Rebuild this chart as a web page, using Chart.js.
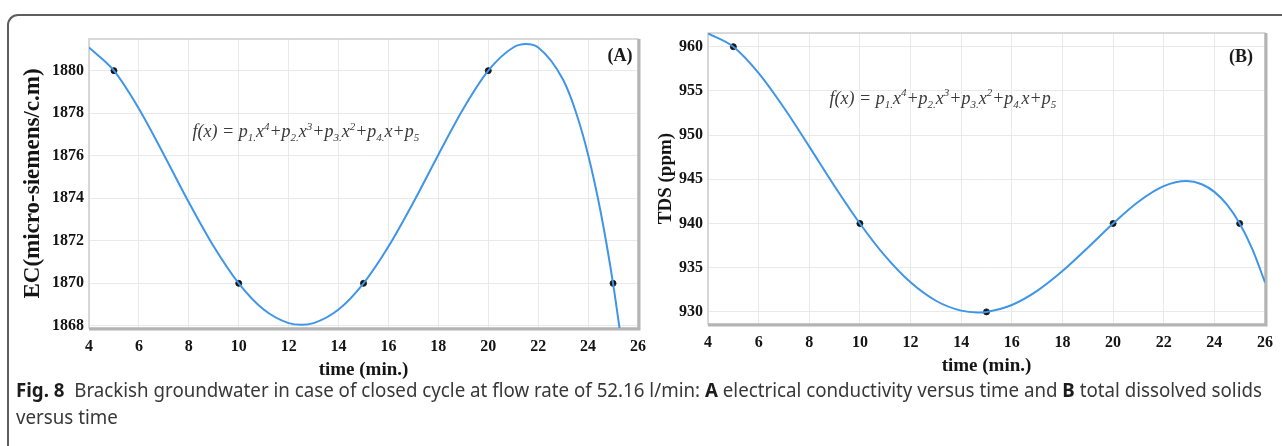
<!DOCTYPE html>
<html lang="en">

<head>
  <meta charset="UTF-8">
  <title>Fig. 8 - Brackish groundwater, closed cycle</title>

  <!-- Chart.js -->
  <script src="https://cdn.jsdelivr.net/npm/chart.js"></script>

  <style>
    body {
      margin: 0;
      width: 1282px;
      height: 446px;
      overflow: hidden;
      background: #fff;
      position: relative;
    }

    /* rounded figure frame, only top/left visible in the crop */
    .figure-frame {
      position: absolute;
      left: 7px;
      top: 14px;
      width: 1400px;
      height: 600px;
      border-top: 2px solid #5e5e5e;
      border-left: 2px solid #5e5e5e;
      border-top-left-radius: 11px;
    }

    .chart-box {
      position: absolute;
      top: 0;
    }

    #boxA { left: 0; }
    #boxB { left: 650px; }

    .caption {
      position: absolute;
      left: 16px;
      top: 377px;
      font-family: 'Liberation Sans Narrow', 'Noto Sans', 'DejaVu Sans', sans-serif;
      font-size: 19px;
      line-height: 27px;
      color: #383838;
      white-space: nowrap;
      transform-origin: 0 0;
    }

    .caption b { color: #1c1c1c; }
  </style>
</head>

<body>
  <div class="figure-frame"></div>

  <div class="chart-box" id="boxA"><canvas id="chartA" width="655" height="385"></canvas></div>
  <div class="chart-box" id="boxB"><canvas id="chartB" width="632" height="385"></canvas></div>

  <div class="caption" id="caption">
    <span id="capLine1"><b>Fig. 8</b>&nbsp; Brackish groundwater in case of closed cycle at flow rate of 52.16 l/min: <b>A</b> electrical conductivity versus time and <b>B</b> total dissolved solids</span><br>
    <span>versus time</span>
  </div>

  <script>
    // Measured samples (both panels)
    const timePoints = [5, 10, 15, 20, 25];
    const ecMeasured = [1880, 1870, 1870, 1880, 1870];
    const tdsMeasured = [960, 940, 930, 940, 940];

    // Fitted curve
    const timeFitA = [4, 5, 6, 7, 8, 9, 10, 11, 12, 12.5, 13, 14, 15, 16, 17, 18, 19, 20, 21, 21.5, 22, 23, 23.5, 24, 24.5, 25, 25.5];
    const ecFit = [1881.09, 1880, 1878.21, 1876.05, 1873.81, 1871.73, 1870, 1868.77, 1868.13, 1868.05, 1868.13, 1868.77, 1870, 1871.73, 1873.81, 1876.05, 1878.21, 1880, 1881.09, 1881.25, 1881.09, 1879.57, 1878.09, 1876.05, 1873.38, 1870, 1865.85];

    // Fitted curve
    const timeFitB = [4, 5, 6, 7, 8, 9, 10, 11, 12, 13, 14, 14.65, 15, 16, 17, 18, 19, 20, 21, 22, 22.9, 23.5, 24, 24.5, 25, 25.5, 26];
    const tdsFit = [961.5, 960, 957.02, 953.1, 948.7, 944.22, 940, 936.3, 933.34, 931.26, 930.14, 929.94, 930, 930.78, 932.38, 934.62, 937.26, 940, 942.46, 944.22, 944.8, 944.44, 943.58, 942.13, 940, 937.1, 933.34];

    // Tick labels
    const timeTicks = [4, 6, 8, 10, 12, 14, 16, 18, 20, 22, 24, 26];
    const ecTicks = [1868, 1870, 1872, 1874, 1876, 1878, 1880];
    const tdsTicks = [930, 935, 940, 945, 950, 955, 960];

    // Fit equation, pieces: 0 normal, 1 subscript, 2 superscript
    const formulaParts = [
      ['f(x) = p', 0], ['1.', 1], ['x', 0], ['4', 2],
      ['+p', 0], ['2.', 1], ['x', 0], ['3', 2],
      ['+p', 0], ['3.', 1], ['x', 0], ['2', 2],
      ['+p', 0], ['4.', 1], ['x+p', 0], ['5', 1]
    ];

    const lineBlue = '#3f95e8';
    const serif = "'Liberation Serif', 'DejaVu Serif', serif";

    function toXY(xs, ys) {
      return xs.map((x, i) => ({ x: x, y: ys[i] }));
    }

    // Draw the equation piece by piece with sub/superscripts
    function drawFormula(ctx, x, y, size) {
      ctx.save();
      ctx.fillStyle = '#3a3a3a';
      ctx.textBaseline = 'alphabetic';
      ctx.textAlign = 'left';
      let cx = x;
      formulaParts.forEach(([text, kind]) => {
        const fs = kind === 0 ? size : Math.round(size * 0.62);
        const dy = kind === 1 ? size * 0.22 : (kind === 2 ? -size * 0.42 : 0);
        ctx.font = 'italic ' + fs + 'px ' + serif;
        ctx.fillText(text, cx, y + dy);
        cx += ctx.measureText(text).width;
      });
      ctx.restore();
    }

    // Plot frame, equation and panel letter
    const panelPlugin = {
      id: 'panel',
      beforeDatasetsDraw(chart) {
        const { ctx, chartArea: a } = chart;
        ctx.save();
        ctx.strokeStyle = '#cdcdcd';
        ctx.lineWidth = 1.5;
        ctx.strokeRect(a.left, a.top, a.right - a.left, a.bottom - a.top);
        ctx.strokeStyle = '#b4b4b4';
        ctx.lineWidth = 3;
        ctx.beginPath();
        ctx.moveTo(a.left, a.bottom + 1);
        ctx.lineTo(a.right + 1, a.bottom + 1);
        ctx.lineTo(a.right + 1, a.top);
        ctx.stroke();
        ctx.restore();
      },
      afterDatasetsDraw(chart, args, opts) {
        const { ctx, chartArea: a, scales } = chart;
        const fx = scales.x.getPixelForValue(opts.formulaAt[0]);
        const fy = scales.y.getPixelForValue(opts.formulaAt[1]);
        drawFormula(ctx, fx, fy + opts.formulaSize * 0.32, opts.formulaSize);

        ctx.save();
        ctx.font = 'bold 18px ' + serif;
        ctx.fillStyle = '#1a1a1a';
        ctx.textAlign = 'center';
        ctx.textBaseline = 'middle';
        ctx.fillText(opts.letter, a.right + opts.letterOffset[0], a.top + opts.letterOffset[1]);
        ctx.restore();
      }
    };

    function makeChart(canvasId, cfg) {
      const tickFont = { family: serif, size: 16, weight: 'bold' };
      return new Chart(document.getElementById(canvasId), {
        type: 'line',
        data: {
          datasets: [{
            label: 'fit',
            data: toXY(cfg.fitX, cfg.fitY),
            borderColor: lineBlue,
            borderWidth: 2,
            pointRadius: 0,
            fill: false,
            cubicInterpolationMode: 'monotone'
          }, {
            label: 'measured',
            data: toXY(timePoints, cfg.measured),
            showLine: false,
            pointRadius: 3,
            pointBackgroundColor: '#111',
            pointBorderColor: '#222',
            pointBorderWidth: 1
          }]
        },
        options: {
          responsive: false,
          animation: false,
          layout: { padding: cfg.padding },
          plugins: {
            legend: { display: false },
            tooltip: { enabled: false },
            panel: cfg.panel
          },
          scales: {
            x: {
              type: 'linear',
              min: 4,
              max: 26,
              afterBuildTicks: s => { s.ticks = timeTicks.map(v => ({ value: v })); },
              afterFit: s => { s.height = 53; },
              ticks: { padding: 9, color: '#141414', font: tickFont, maxRotation: 0, autoSkip: false },
              grid: { color: '#e9e9e9', drawTicks: false },
              border: { display: false },
              title: {
                display: true,
                text: 'time (min.)',
                color: '#141414',
                font: { family: serif, size: 19, weight: 'bold' },
                padding: 0
              }
            },
            y: {
              min: cfg.yMin,
              max: cfg.yMax,
              afterBuildTicks: s => { s.ticks = cfg.yTicks.map(v => ({ value: v })); },
              afterFit: s => { s.width = cfg.yWidth; },
              ticks: { padding: 5, color: '#141414', font: tickFont, callback: v => String(v) },
              grid: { color: '#e9e9e9', drawTicks: false },
              border: { display: false },
              title: {
                display: true,
                text: cfg.yTitle,
                color: '#141414',
                font: { family: serif, size: cfg.yTitleSize, weight: 'bold' },
                padding: { top: cfg.yTitlePad, bottom: 0 }
              }
            }
          }
        },
        plugins: [panelPlugin]
      });
    }

    // Panel A - EC
    makeChart('chartA', {
      fitX: timeFitA, fitY: ecFit, measured: ecMeasured,
      yMin: 1867.9, yMax: 1881.49, yTicks: ecTicks,
      yTitle: 'EC(micro-siemens/c.m)', yTitleSize: 23, yTitlePad: 19, yWidth: 89,
      padding: { left: 0, top: 39, right: 10, bottom: 4 },
      panel: { letter: '(A)', letterOffset: [-18, 17], formulaAt: [8.15, 1877.14], formulaSize: 18 }
    });

    // Panel B - TDS
    makeChart('chartB', {
      fitX: timeFitB, fitY: tdsFit, measured: tdsMeasured,
      yMin: 928.63, yMax: 961.55, yTicks: tdsTicks,
      yTitle: 'TDS (ppm)', yTitleSize: 19, yTitlePad: 5, yWidth: 58,
      padding: { left: 0, top: 33, right: 12, bottom: 8 },
      panel: { letter: '(B)', letterOffset: [-24, 24], formulaAt: [8.8, 954.2], formulaSize: 18 }
    });

    // squeeze the caption to the width of the printed line
    const line1 = document.getElementById('capLine1');
    const w = line1.getBoundingClientRect().width;
    document.getElementById('caption').style.transform = 'scaleX(' + (1246 / w) + ')';
  </script>
</body>

</html>
